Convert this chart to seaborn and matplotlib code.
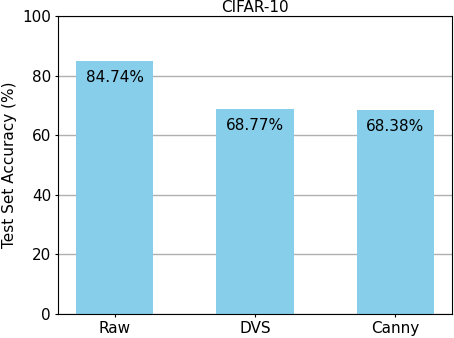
import matplotlib
matplotlib.use('Agg')

import matplotlib.pyplot as plt
import seaborn as sns
import pandas as pd

methods = ["Raw", "DVS", "Canny"]
accuracy = [84.74, 68.77, 68.38]

data = pd.DataFrame({"method": methods, "accuracy": accuracy})

fig = plt.figure(figsize=(4.54, 3.38), dpi=100)
ax = fig.add_axes([0.1278, 0.071, 0.8678, 0.8817])

sns.barplot(x="method", y="accuracy", data=data, color="skyblue",
            saturation=1, width=0.55, ax=ax, zorder=2)

ax.set_axisbelow(True)
ax.yaxis.grid(True, color="#b0b0b0", linewidth=1, zorder=0)
ax.set_ylim(0, 100)
ax.set_xlim(-0.4025, 2.4025)

for i, v in enumerate(accuracy):
    ax.text(i, v - 3, f"{v:.2f}%", ha="center", va="top", fontsize=11)

ax.set_xlabel("")
ax.set_ylabel("Test Set Accuracy (%)", fontsize=11)
ax.set_title("CIFAR-10", fontsize=11, pad=3)
ax.tick_params(labelsize=11, length=2.5, pad=2.5)

plt.savefig("out.png", dpi=100)
plt.close()
